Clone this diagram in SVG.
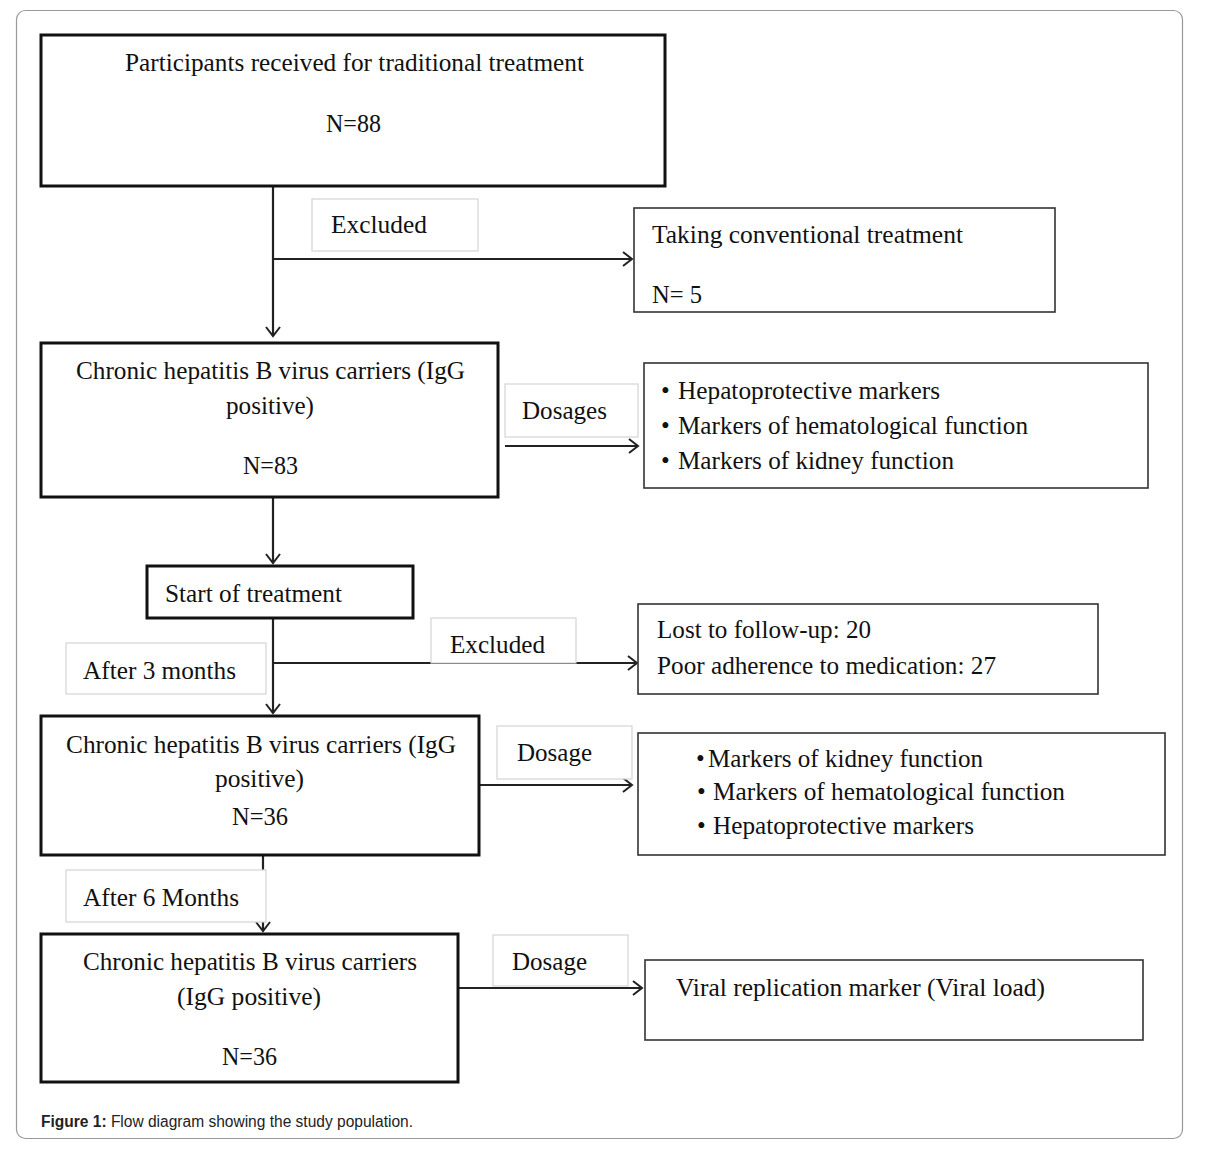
<svg xmlns="http://www.w3.org/2000/svg" width="1214" height="1156" viewBox="0 0 1214 1156">
<defs>
<style>
.t{font-family:"Liberation Serif","Times New Roman",serif;font-size:25px;fill:#111}
.main{fill:#fff;stroke:#111;stroke-width:3}
.side{fill:#fff;stroke:#333;stroke-width:1.6}
.lab{fill:#fff;stroke:#d4d4d4;stroke-width:1.2}
.c{fill:none;stroke:#222;stroke-width:2.2}
.cap{font-family:"Liberation Sans",Arial,sans-serif;font-size:16px;fill:#222}
</style>
<marker id="ah" markerWidth="14" markerHeight="16" refX="11" refY="8" orient="auto" markerUnits="userSpaceOnUse">
<polyline points="2,1 11,8 2,15" fill="none" stroke="#222" stroke-width="2"/>
</marker>
</defs>
<rect width="1214" height="1156" fill="#fff"/>
<rect x="16.5" y="10.5" width="1166" height="1128" rx="9" fill="#fff" stroke="#999" stroke-width="1.2"/>

<g id="connectors">
<line class="c" x1="273" y1="186" x2="273" y2="336" marker-end="url(#ah)"/>
<line class="c" x1="273" y1="259" x2="632" y2="259" marker-end="url(#ah)"/>
<line class="c" x1="505" y1="446" x2="638" y2="446" marker-end="url(#ah)"/>
<line class="c" x1="273" y1="497" x2="273" y2="563" marker-end="url(#ah)"/>
<line class="c" x1="273" y1="618" x2="273" y2="713" marker-end="url(#ah)"/>
<line class="c" x1="273" y1="663" x2="637" y2="663" marker-end="url(#ah)"/>
<line class="c" x1="479" y1="785" x2="632" y2="785" marker-end="url(#ah)"/>
<line class="c" x1="263" y1="855" x2="263" y2="931" marker-end="url(#ah)"/>
<line class="c" x1="458" y1="988" x2="642" y2="988" marker-end="url(#ah)"/>
</g>

<g id="n-participants">
<rect class="main" x="41" y="35" width="624" height="151"/>
<text class="t" x="125" y="71" textLength="459" lengthAdjust="spacingAndGlyphs">Participants received for traditional treatment</text>
<text class="t" x="326" y="132" textLength="55" lengthAdjust="spacingAndGlyphs">N=88</text>
</g>

<g id="l-excluded1">
<rect class="lab" x="312" y="199" width="166" height="52"/>
<text class="t" x="331" y="233" textLength="96" lengthAdjust="spacingAndGlyphs">Excluded</text>
</g>

<g id="n-conventional">
<rect class="side" x="634" y="208" width="421" height="104"/>
<text class="t" x="652" y="243" textLength="311" lengthAdjust="spacingAndGlyphs">Taking conventional treatment</text>
<text class="t" x="652" y="303" textLength="50" lengthAdjust="spacingAndGlyphs">N= 5</text>
</g>

<g id="n-carriers83">
<rect class="main" x="41" y="343" width="457" height="154"/>
<text class="t" x="76" y="379" textLength="389" lengthAdjust="spacingAndGlyphs">Chronic hepatitis B virus carriers (IgG</text>
<text class="t" x="226" y="414" textLength="88" lengthAdjust="spacingAndGlyphs">positive)</text>
<text class="t" x="243" y="474" textLength="55" lengthAdjust="spacingAndGlyphs">N=83</text>
</g>

<g id="l-dosages">
<rect class="lab" x="505" y="384" width="133" height="53"/>
<text class="t" x="522" y="419" textLength="85" lengthAdjust="spacingAndGlyphs">Dosages</text>
</g>

<g id="n-markers1">
<rect class="side" x="644" y="363" width="504" height="125"/>
<text class="t" x="661" y="399">•</text>
<text class="t" x="678" y="399" textLength="262" lengthAdjust="spacingAndGlyphs">Hepatoprotective markers</text>
<text class="t" x="661" y="434">•</text>
<text class="t" x="678" y="434" textLength="350" lengthAdjust="spacingAndGlyphs">Markers of hematological function</text>
<text class="t" x="661" y="469">•</text>
<text class="t" x="678" y="469" textLength="276" lengthAdjust="spacingAndGlyphs">Markers of kidney function</text>
</g>

<g id="n-start">
<rect class="main" x="147" y="566" width="266" height="52"/>
<text class="t" x="165" y="602" textLength="177" lengthAdjust="spacingAndGlyphs">Start of treatment</text>
</g>

<g id="l-excluded2">
<rect class="lab" x="431" y="618" width="145" height="45"/>
<text class="t" x="450" y="653" textLength="95" lengthAdjust="spacingAndGlyphs">Excluded</text>
</g>

<g id="l-after3">
<rect class="lab" x="66" y="643" width="200" height="51"/>
<text class="t" x="83" y="679" textLength="153" lengthAdjust="spacingAndGlyphs">After 3 months</text>
</g>

<g id="n-lost">
<rect class="side" x="638" y="604" width="460" height="90"/>
<text class="t" x="657" y="638" textLength="214" lengthAdjust="spacingAndGlyphs">Lost to follow-up: 20</text>
<text class="t" x="657" y="674" textLength="339" lengthAdjust="spacingAndGlyphs">Poor adherence to medication: 27</text>
</g>

<g id="n-carriers36a">
<rect class="main" x="41" y="716" width="438" height="139"/>
<text class="t" x="66" y="753" textLength="390" lengthAdjust="spacingAndGlyphs">Chronic hepatitis B virus carriers (IgG</text>
<text class="t" x="215" y="787" textLength="89" lengthAdjust="spacingAndGlyphs">positive)</text>
<text class="t" x="232" y="825" textLength="56" lengthAdjust="spacingAndGlyphs">N=36</text>
</g>

<g id="l-dosage1">
<rect class="lab" x="497" y="726" width="135" height="53"/>
<text class="t" x="517" y="761" textLength="75" lengthAdjust="spacingAndGlyphs">Dosage</text>
</g>

<g id="n-markers2">
<rect class="side" x="638" y="733" width="527" height="122"/>
<text class="t" x="696" y="767">•</text>
<text class="t" x="708" y="767" textLength="275" lengthAdjust="spacingAndGlyphs">Markers of kidney function</text>
<text class="t" x="697" y="800">•</text>
<text class="t" x="713" y="800" textLength="352" lengthAdjust="spacingAndGlyphs">Markers of hematological function</text>
<text class="t" x="697" y="834">•</text>
<text class="t" x="713" y="834" textLength="261" lengthAdjust="spacingAndGlyphs">Hepatoprotective markers</text>
</g>

<g id="l-after6">
<rect class="lab" x="66" y="870" width="200" height="52"/>
<text class="t" x="83" y="906" textLength="156" lengthAdjust="spacingAndGlyphs">After 6 Months</text>
</g>

<g id="n-carriers36b">
<rect class="main" x="41" y="934" width="417" height="148"/>
<text class="t" x="83" y="970" textLength="334" lengthAdjust="spacingAndGlyphs">Chronic hepatitis B virus carriers</text>
<text class="t" x="177" y="1005" textLength="144" lengthAdjust="spacingAndGlyphs">(IgG positive)</text>
<text class="t" x="222" y="1065" textLength="55" lengthAdjust="spacingAndGlyphs">N=36</text>
</g>

<g id="l-dosage2">
<rect class="lab" x="493" y="935" width="135" height="51"/>
<text class="t" x="512" y="970" textLength="75" lengthAdjust="spacingAndGlyphs">Dosage</text>
</g>

<g id="n-viral">
<rect class="side" x="645" y="960" width="498" height="80"/>
<text class="t" x="676" y="996" textLength="369" lengthAdjust="spacingAndGlyphs">Viral replication marker (Viral load)</text>
</g>

<text class="cap" x="41" y="1127" textLength="372" lengthAdjust="spacingAndGlyphs"><tspan font-weight="bold">Figure 1:</tspan> Flow diagram showing the study population.</text>
</svg>
